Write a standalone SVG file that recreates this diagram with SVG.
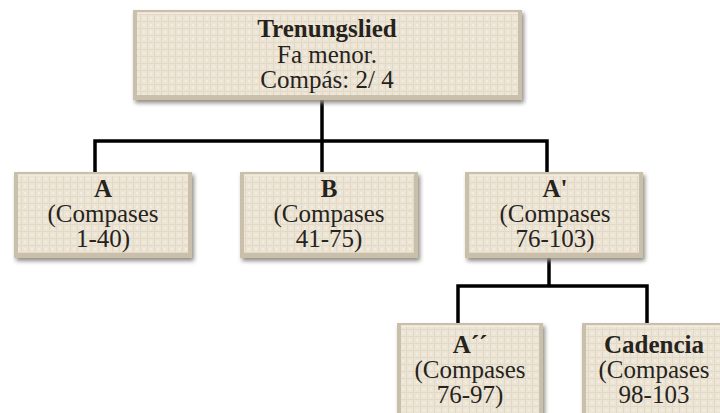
<svg xmlns="http://www.w3.org/2000/svg" width="720" height="413" viewBox="0 0 720 413">
<style>
.t{font-family:"Liberation Serif","Times New Roman",serif;font-size:25px;fill:#26231c;text-anchor:middle}
.b{font-weight:bold}
.edge{fill:#c9bfab}
.face{fill:url(#tex)}
.sh{fill:#8f8b84;filter:url(#blur)}
.hl{fill:none;stroke:#f4efe4;stroke-width:1.5}
.c{fill:none;stroke:#000;stroke-width:3.5}
</style>
<defs>
<pattern id="tex" width="7" height="7" patternUnits="userSpaceOnUse">
<rect width="7" height="7" fill="#ece5d6"/>
<path d="M0 0.5H7M0.5 0V7" stroke="#e2d9c7" stroke-width="1"/>
<rect x="3" y="3" width="2" height="2" fill="#f2ece1"/>
</pattern>
<filter id="blur" x="-10%" y="-10%" width="120%" height="130%"><feGaussianBlur stdDeviation="2"/></filter>
</defs>
<g id="connectors">
<path class="c" d="M322,100V172"/>
<path class="c" d="M95,172V141H547V172"/>
<path class="c" d="M549,258V286"/>
<path class="c" d="M458,323V286H647V323"/>
</g>
<g id="root">
<rect class="sh" x="135" y="13" width="389" height="90"/>
<rect class="edge" x="133" y="10" width="389" height="90"/>
<rect class="face" x="137" y="13" width="381" height="82"/>
<path class="hl" d="M137,13H518"/>
<text class="t b" x="327" y="37">Trenungslied</text>
<text class="t" x="327" y="63">Fa menor.</text>
<text class="t" x="327" y="88">Compás: 2/ 4</text>
</g>
<g id="nodeA">
<rect class="sh" x="16" y="175" width="178" height="86"/>
<rect class="edge" x="14" y="172" width="178" height="86"/>
<rect class="face" x="18" y="175" width="170" height="78"/>
<path class="hl" d="M18,175H188"/>
<text class="t b" x="103" y="197">A</text>
<text class="t" x="103" y="222">(Compases</text>
<text class="t" x="103" y="247">1-40)</text>
</g>
<g id="nodeB">
<rect class="sh" x="242" y="175" width="178" height="86"/>
<rect class="edge" x="240" y="172" width="178" height="86"/>
<rect class="face" x="244" y="175" width="170" height="78"/>
<path class="hl" d="M244,175H414"/>
<text class="t b" x="329" y="197">B</text>
<text class="t" x="329" y="222">(Compases</text>
<text class="t" x="329" y="247">41-75)</text>
</g>
<g id="nodeA2">
<rect class="sh" x="467" y="175" width="178" height="86"/>
<rect class="edge" x="465" y="172" width="178" height="86"/>
<rect class="face" x="469" y="175" width="170" height="78"/>
<path class="hl" d="M469,175H639"/>
<text class="t b" x="555" y="197">A'</text>
<text class="t" x="555" y="222">(Compases</text>
<text class="t" x="555" y="247">76-103)</text>
</g>
<g id="nodeA3">
<rect class="sh" x="399" y="326" width="146" height="92"/>
<rect class="edge" x="397" y="323" width="146" height="92"/>
<rect class="face" x="401" y="326" width="138" height="90"/>
<path class="hl" d="M401,326H539"/>
<text class="t b" x="470" y="353">A´´</text>
<text class="t" x="470" y="378">(Compases</text>
<text class="t" x="470" y="403">76-97)</text>
</g>
<g id="nodeCad">
<rect class="sh" x="584" y="326" width="146" height="92"/>
<rect class="edge" x="582" y="323" width="146" height="92"/>
<rect class="face" x="586" y="326" width="138" height="90"/>
<path class="hl" d="M586,326H724"/>
<text class="t b" x="654" y="353">Cadencia</text>
<text class="t" x="654" y="378">(Compases</text>
<text class="t" x="654" y="403">98-103</text>
</g>
</svg>
